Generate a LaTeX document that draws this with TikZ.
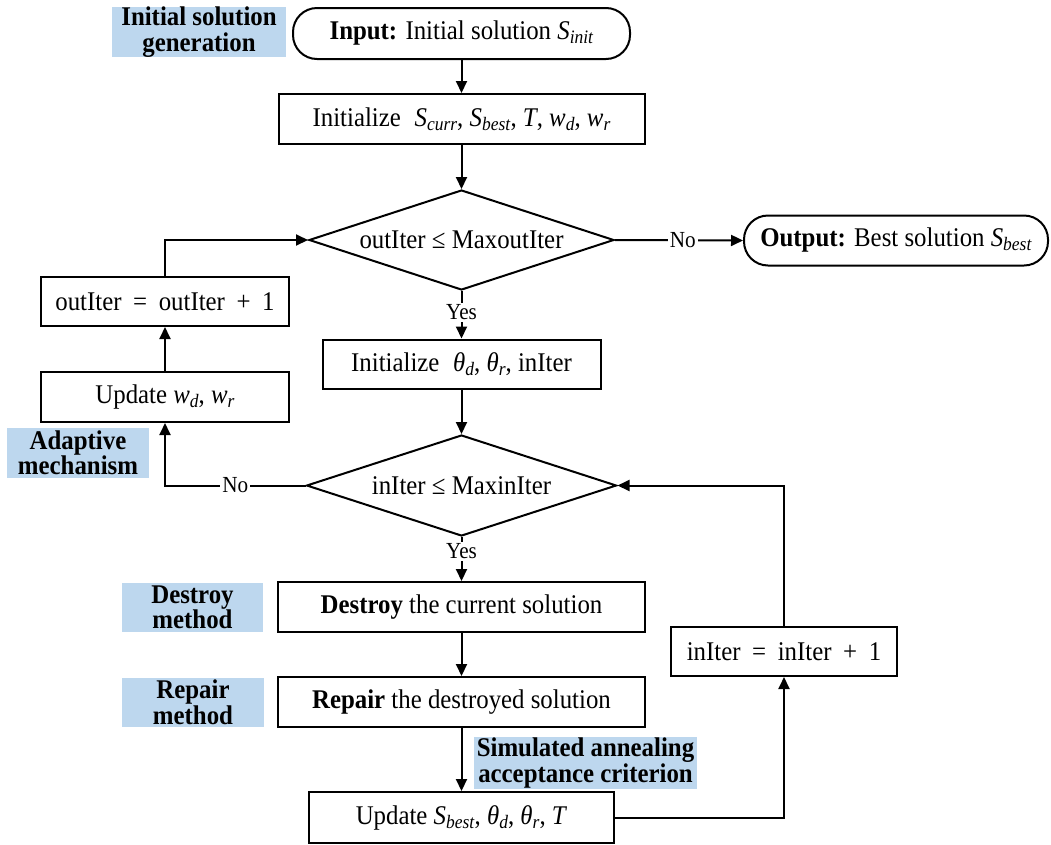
\documentclass[tikz,border=0pt]{standalone}
\usepackage{fontspec}
\setmainfont{Liberation Serif}[FakeStretch=0.92]
\usetikzlibrary{arrows.meta,shapes.geometric}

\definecolor{tagblue}{RGB}{189,215,238}

% italic variable with an italic subscript, set in the text font
\newcommand\var[2]{\textit{#1}\raisebox{-0.32ex}{\fontsize{19}{19}\selectfont\textit{#2}}}
% relation or operator with wider spacing
\newcommand\wop[1]{\hspace{0.2em}#1\hspace{0.2em}}

\tikzset{
  base/.style={font=\fontsize{27}{26}\selectfont, inner sep=0pt, align=center},
  procbox/.style={base, draw, line width=2pt, rectangle},
  termbox/.style={base, draw, line width=2pt, rectangle, rounded corners=24pt},
  decision/.style={base, draw, line width=2pt, diamond, aspect=3},
  tag/.style={base, fill=tagblue, font=\fontsize{27}{25.5}\selectfont\bfseries},
  flow/.style={line width=2pt, -{Triangle[length=12pt,width=11pt]}},
  branch/.style={font=\fontsize{23}{23}\selectfont, fill=white, inner sep=2pt}
}

\begin{document}
\begin{tikzpicture}[x=1pt,y=-1pt]
\useasboundingbox (0,0) rectangle (1051,844);

% main column
\node[termbox, minimum width=337pt, minimum height=51pt] (input) at (461.5,33.5)
  {\textbf{Input:} Initial solution \var{S}{init}};
\node[procbox, minimum width=366pt, minimum height=50pt] (init) at (461.5,119)
  {Initialize\; \var{S}{curr}, \var{S}{best}, \textit{T}, \var{w}{d}, \var{w}{r}};
\node[decision, minimum width=305pt, minimum height=100pt] (outer) at (461.5,240)
  {outIter ≤ MaxoutIter};
\node[termbox, minimum width=304pt, minimum height=50pt] (output) at (896,240.5)
  {\textbf{Output:} Best solution \var{S}{best}};
\node[procbox, minimum width=278pt, minimum height=49pt] (initth) at (461.5,364)
  {Initialize\; \var{θ}{d}, \var{θ}{r}, inIter};
\node[decision, minimum width=310pt, minimum height=101pt] (inner) at (461.5,485.5)
  {inIter ≤ MaxinIter};
\node[procbox, minimum width=367pt, minimum height=50pt] (destroy) at (461.5,607)
  {\textbf{Destroy} the current solution};
\node[procbox, minimum width=367pt, minimum height=50pt] (repair) at (461.5,702)
  {\textbf{Repair} the destroyed solution};
\node[procbox, minimum width=305pt, minimum height=51pt] (update) at (461.5,817.5)
  {Update \var{S}{best}, \var{θ}{d}, \var{θ}{r}, \textit{T}};

% side boxes
\node[procbox, minimum width=248pt, minimum height=49pt] (outinc) at (165,301.5)
  {outIter \wop{=} outIter \wop{+} 1};
\node[procbox, minimum width=248pt, minimum height=50pt] (wupd) at (165,397)
  {Update \var{w}{d}, \var{w}{r}};
\node[procbox, minimum width=226pt, minimum height=49pt] (ininc) at (784,651.5)
  {inIter \wop{=} inIter \wop{+} 1};

% highlighted phase tags
\node[tag, minimum width=174pt, minimum height=50pt] (tinit) at (199,32)
  {Initial solution\\generation};
\node[tag, minimum width=142pt, minimum height=50pt] (tadapt) at (78,453)
  {Adaptive\\mechanism};
\node[tag, minimum width=141pt, minimum height=49pt] (tdestroy) at (192.5,607.5)
  {Destroy\\method};
\node[tag, minimum width=142pt, minimum height=49pt] (trepair) at (193,702.5)
  {Repair\\method};
\node[tag, minimum width=223pt, minimum height=52pt] (tsa) at (585.5,763)
  {Simulated annealing\\acceptance criterion};

% connectors
\draw[flow] (input) -- (init);
\draw[flow] (init) -- (outer);
\draw[flow] (outer.east) -- node[branch, pos=0.53] {No} (output.west);
\draw[flow] (outer.south) -- node[branch, pos=0.45] {Yes} (initth.north);
\draw[flow] (initth) -- (inner.north);
\draw[flow] (inner.south) -- node[branch, pos=0.33] {Yes} (destroy.north);
\draw[flow] (destroy) -- (repair);
\draw[flow] (repair) -- (update);
\draw[flow] (update.east) -| (ininc.south);
\draw[flow] (ininc.north) |- (inner.east);
\draw[flow] (inner.west) -| node[branch, pos=0.25] {No} (wupd.south);
\draw[flow] (wupd) -- (outinc);
\draw[flow] (outinc.north) |- (outer.west);
\end{tikzpicture}
\end{document}
